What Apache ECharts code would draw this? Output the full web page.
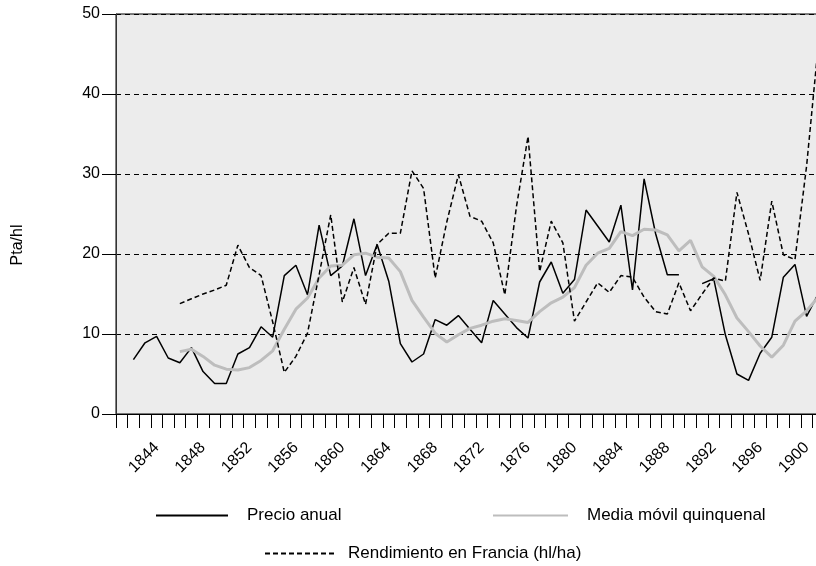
<!DOCTYPE html>
<html>
<head>
<meta charset="utf-8">
<title>Precio anual y rendimiento</title>
<script src="https://cdn.jsdelivr.net/npm/echarts@6/dist/echarts.min.js"></script>
<style>
  html, body { margin: 0; padding: 0; background: #fff; }
  #chart { width: 816px; height: 566px; }
</style>
</head>
<body>
<div id="chart"></div>
<script>
// años (1901 queda fuera del recorte, a la derecha)
var years = [
  '1841', '1842', '1843', '1844', '1845', '1846', '1847', '1848', '1849', '1850',
  '1851', '1852', '1853', '1854', '1855', '1856', '1857', '1858', '1859', '1860',
  '1861', '1862', '1863', '1864', '1865', '1866', '1867', '1868', '1869', '1870',
  '1871', '1872', '1873', '1874', '1875', '1876', '1877', '1878', '1879', '1880',
  '1881', '1882', '1883', '1884', '1885', '1886', '1887', '1888', '1889', '1890',
  '1891', '1892', '1893', '1894', '1895', '1896', '1897', '1898', '1899', '1900',
  '1901'
]

var precioAnual = [
  null, 6.8, 8.9, 9.7, 7.0, 6.4, 8.3, 5.3, 3.8, 3.8,
  7.5, 8.3, 10.9, 9.6, 17.3, 18.6, 14.9, 23.6, 17.3, 18.5,
  24.4, 17.3, 21.2, 16.6, 8.8, 6.5, 7.5, 11.8, 11.1, 12.3,
  10.6, 8.9, 14.2, 12.5, 10.8, 9.5, 16.5, 19.0, 15.1, 16.8,
  25.5, 23.5, 21.5, 26.1, 15.5, 29.4, 22.5, 17.4, 17.4, null,
  16.3, 16.9, 9.9, 5.0, 4.2, 7.6, 9.6, 17.1, 18.7, 12.2,
  15.0
]

var mediaMovil = [
  null, null, null, null, null, 7.8, 8.1, 7.2, 6.1, 5.6,
  5.5, 5.8, 6.7, 7.9, 10.6, 13.1, 14.5, 17.0, 18.5, 18.6,
  19.9, 20.1, 19.6, 19.5, 17.8, 14.2, 12.1, 10.1, 9.0, 9.9,
  10.7, 11.1, 11.6, 11.9, 11.7, 11.45, 12.8, 13.9, 14.6, 15.8,
  18.6, 20.1, 20.7, 22.8, 22.3, 23.1, 23.0, 22.4, 20.4, 21.7,
  18.4, 17.2, 14.9, 12.0, 10.3, 8.5, 7.1, 8.6, 11.6, 12.9,
  14.6
]

var rendimientoFrancia = [
  null, null, null, null, null, 13.8, 14.4, 15.0, 15.5, 16.1,
  21.1, 18.3, 17.3, 11.5, 5.2, 7.2, 10.1, 17.4, 24.9, 14.0,
  18.3, 13.7, 21.2, 22.6, 22.6, 30.4, 28.2, 17.0, 24.0, 29.9,
  24.7, 24.1, 21.4, 14.9, 25.9, 34.7, 17.8, 24.1, 21.4, 11.6,
  14.0, 16.4, 15.2, 17.3, 17.1, 14.6, 12.8, 12.5, 16.4, 12.9,
  15.0, 17.0, 16.6, 27.7, 22.5, 16.7, 26.6, 19.9, 19.3, 31.0,
  46.0
]

var fontName = 'Liberation Sans, Arial, sans-serif'

var myChart = echarts.init(document.getElementById('chart'), null, { renderer: 'canvas' })

var legendText = {
  fontFamily: fontName,
  fontSize: 17,
  color: '#000'
}

var option = {
  animation: false,
  backgroundColor: '#fff',
  grid: {
    left: 116,
    width: 708,
    top: 14,
    bottom: 152,
    outerBoundsMode: 'none',
    containLabel: false,
    show: true,
    backgroundColor: '#ececec',
    borderColor: '#000',
    borderWidth: 1
  },
  legend: [
    {
      data: ['Precio anual'],
      left: 150,
      top: 502,
      itemWidth: 72,
      itemHeight: 14,
      itemStyle: { opacity: 0 },
      textStyle: Object.assign({ padding: [0, 0, 0, 14] }, legendText)
    },
    {
      data: ['Media móvil quinquenal'],
      left: 487,
      top: 502,
      itemWidth: 75,
      itemHeight: 14,
      itemStyle: { opacity: 0 },
      textStyle: Object.assign({ padding: [0, 0, 0, 14] }, legendText)
    },
    {
      data: ['Rendimiento en Francia (hl/ha)'],
      left: 259,
      top: 540,
      itemWidth: 72,
      itemHeight: 14,
      itemStyle: { opacity: 0 },
      textStyle: Object.assign({ padding: [0, 0, 0, 6] }, legendText)
    }
  ],
  graphic: [
    {
      type: 'text',
      x: 18,
      y: 245,
      rotation: Math.PI / 2,
      style: {
        text: 'Pta/hl',
        fontFamily: fontName,
        fontSize: 16,
        fill: '#000',
        textAlign: 'center',
        textVerticalAlign: 'middle'
      }
    }
  ],
  xAxis: {
    type: 'category',
    data: years,
    boundaryGap: true,
    axisLine: { show: true, lineStyle: { color: '#000', width: 1 } },
    axisTick: { show: true, interval: 0, length: 14, lineStyle: { color: '#000' } },
    axisLabel: {
      interval: function(index) {
        return index >= 3 && (index - 3) % 4 === 0
      },
      rotate: 45,
      margin: 31,
      fontFamily: fontName,
      fontSize: 16,
      color: '#000'
    },
    splitLine: { show: false }
  },
  yAxis: {
    type: 'value',
    min: 0,
    max: 50,
    interval: 10,
    axisLine: { show: true, lineStyle: { color: '#333', width: 1 } },
    axisTick: { show: true, length: 14, lineStyle: { color: '#000' } },
    axisLabel: {
      margin: 16,
      fontFamily: fontName,
      fontSize: 16,
      color: '#000'
    },
    splitLine: {
      show: true,
      lineStyle: { color: '#000', type: [5, 4], width: 1 }
    }
  },
  series: [
    {
      name: 'Precio anual',
      type: 'line',
      data: precioAnual,
      symbol: 'none',
      connectNulls: false,
      lineStyle: { color: '#000', width: 1.5 },
      itemStyle: { color: '#000' }
    },
    {
      name: 'Media móvil quinquenal',
      type: 'line',
      data: mediaMovil,
      symbol: 'none',
      lineStyle: { color: '#bdbdbd', width: 3 },
      itemStyle: { color: '#bdbdbd' }
    },
    {
      name: 'Rendimiento en Francia (hl/ha)',
      type: 'line',
      data: rendimientoFrancia,
      symbol: 'none',
      lineStyle: { color: '#000', width: 1.5, type: [5, 3] },
      itemStyle: { color: '#000' }
    }
  ]
}

option && myChart.setOption(option)
</script>
</body>
</html>
